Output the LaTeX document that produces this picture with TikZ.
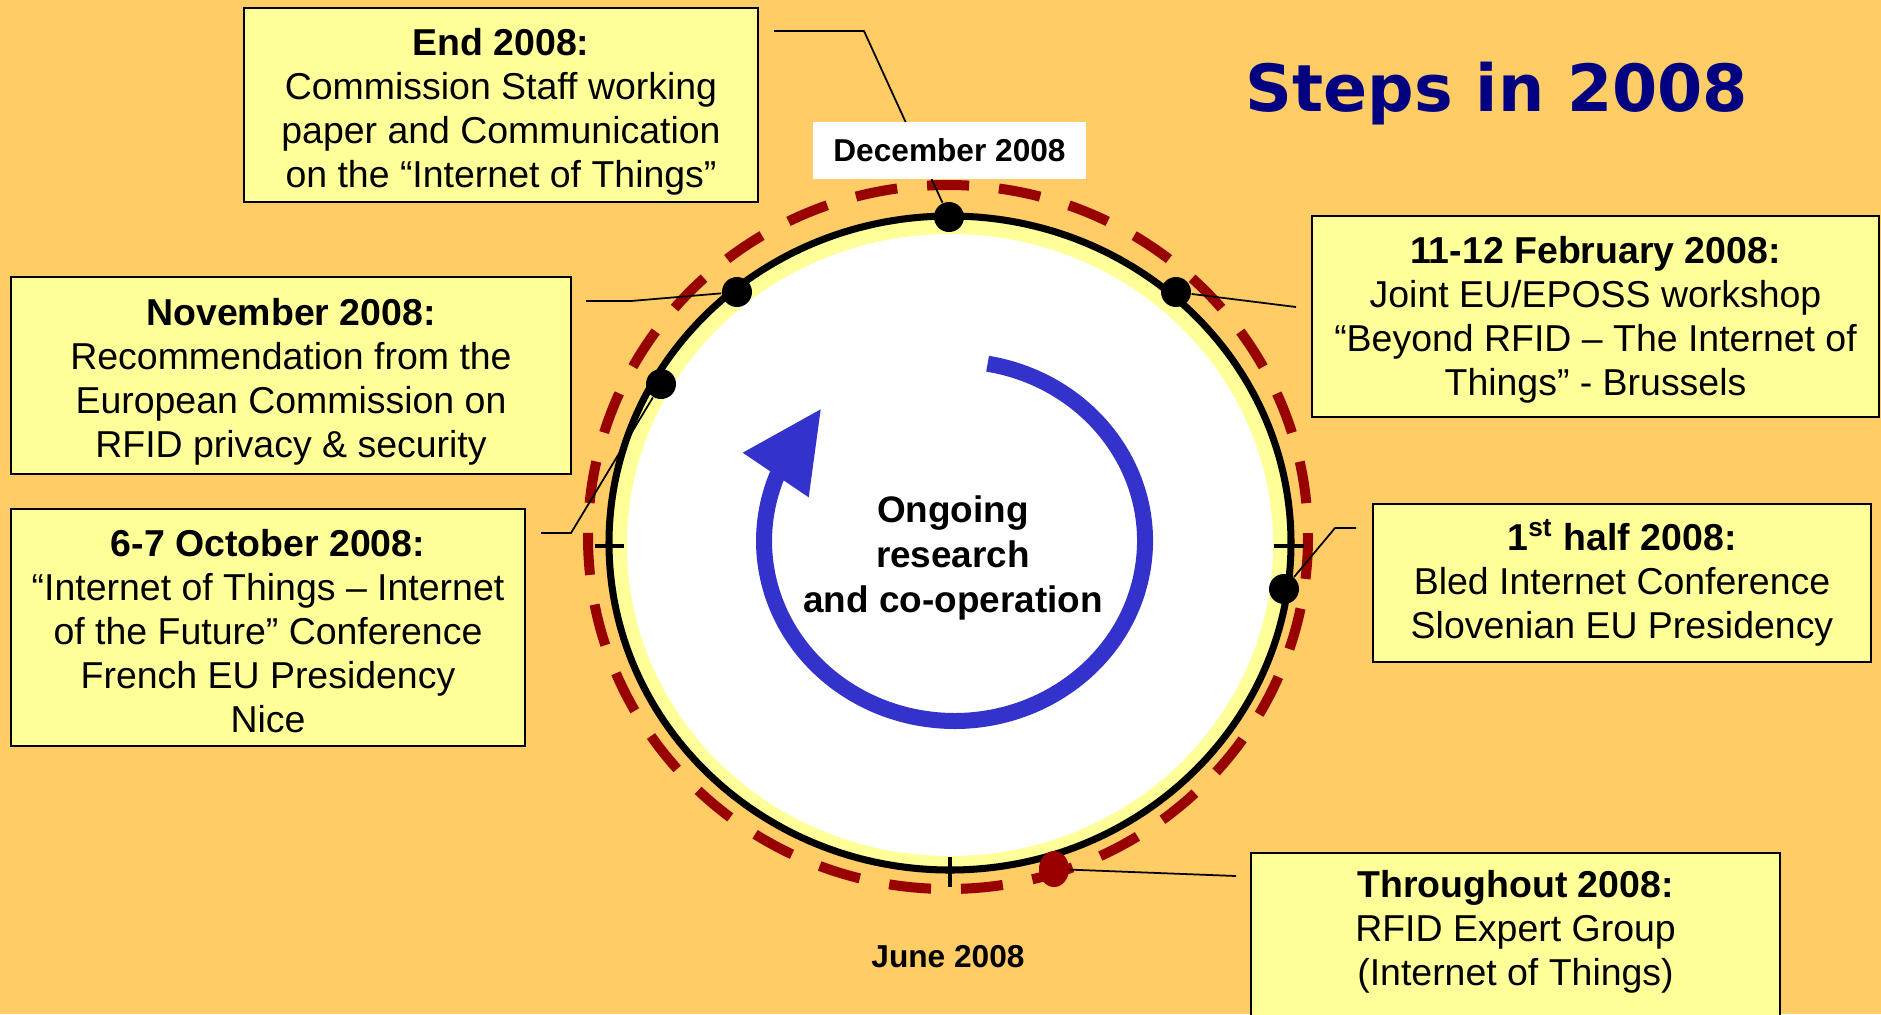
\documentclass[tikz,border=0pt]{standalone}
\usepackage{fontspec}
\setmainfont{Liberation Sans}
\newfontfamily\titlefont{DejaVu Sans}
\usetikzlibrary{shapes.geometric}

\definecolor{bgorange}{HTML}{FFCC66}
\definecolor{boxyellow}{HTML}{FFFF99}
\definecolor{ringred}{HTML}{990000}
\definecolor{arcblue}{HTML}{3333CC}
\definecolor{titleblue}{HTML}{000080}

\begin{document}
\begin{tikzpicture}[x=0.01cm, y=-0.01cm,
    eventbox/.style={draw=black, line width=0.6pt, fill=boxyellow, align=center,
        inner sep=0pt, font=\fontsize{10.65}{12.5}\selectfont},
    stepdot/.style={circle, fill=black, inner sep=0pt, minimum size=0.3cm},
    leader/.style={line width=0.5pt},
    ringtick/.style={line width=1.2pt}]

    % Background and picture size
    \fill[bgorange] (0,0) rectangle (1881,1014);
    \useasboundingbox (0,0) rectangle (1881,1014);

    % Dashed outer ring
    \draw[ringred, line width=0.1cm, dash pattern=on 0.42cm off 0.3cm]
        (948,537) ellipse[x radius=360, y radius=352];

    % Year disc: yellow band, white inside, black rim
    \fill[boxyellow] (950,543) ellipse[x radius=341, y radius=327];
    \fill[white] (950,545) ellipse[x radius=323, y radius=311];
    \draw[line width=2pt] (950,543) ellipse[x radius=341, y radius=327];

    % Quarter ticks on the rim
    \draw[ringtick] (595,546) -- (624,546);
    \draw[ringtick] (1274,546) -- (1304,546);
    \draw[ringtick] (950,857) -- (950,887);

    % Blue cycle arrow
    \draw[arcblue, line width=0.16cm] (987.6,363.7)
        arc[start angle=-80, end angle=201.7, x radius=190.5, y radius=180];
    \fill[arcblue] (820.7,409.3) -- (742.7,452.7) -- (808.7,497.3) -- cycle;

    % Centre text
    \node[align=center, font=\bfseries\fontsize{10.5}{12.8}\selectfont] (ongoing) at (953,558)
        {Ongoing\\research\\and co-operation};

    % Title
    \node[anchor=base, text=titleblue, font=\titlefont\bfseries\fontsize{18.5}{22}\selectfont]
        (title) at (1497,111) {Steps in 2008};

    % Event dots on the rim
    \node[stepdot] (decdot) at (949,217) {};
    \node[stepdot] (febdot) at (1176,292) {};
    \node[stepdot] (halfdot) at (1284,589) {};
    \node[stepdot] (novdot) at (737,292) {};
    \node[stepdot] (octdot) at (661,384) {};
    \node[ellipse, fill=ringred, inner sep=0pt, minimum width=0.3cm, minimum height=0.36cm]
        (thrdot) at (1054,869) {};

    % Free ends of the leaders
    \coordinate (endA) at (774,31);
    \coordinate (endB) at (864,31);
    \coordinate (febA) at (1296,307);
    \coordinate (halfA) at (1335,528);
    \coordinate (halfB) at (1356,528);
    \coordinate (thrA) at (1236,876);
    \coordinate (novA) at (586,301);
    \coordinate (novB) at (631,301);
    \coordinate (octA) at (541,533);
    \coordinate (octB) at (571,533);

    % Leaders from the boxes to the dots
    \draw[leader] (endA) -- (endB) -- (decdot);
    \draw[leader] (febdot) -- (febA);
    \draw[leader] (halfdot) -- (halfA) -- (halfB);
    \draw[leader] (thrdot) -- (thrA);
    \draw[leader] (novA) -- (novB) -- (novdot);
    \draw[leader] (octA) -- (octB) -- (octdot);

    % Month labels on the ring
    \node[fill=white, minimum width=2.73cm, minimum height=0.57cm, inner sep=0pt,
        font=\bfseries\fontsize{9}{11}\selectfont] (decbox) at (949.5,150.5) {December 2008};
    \node[anchor=base, font=\bfseries\fontsize{9}{11}\selectfont] (junelabel) at (948,967) {June 2008};

    % Event boxes
    \node[eventbox, minimum width=5.14cm, minimum height=1.94cm, text height=49.3pt] (endbox) at (501,105)
        {\textbf{End 2008:}\\Commission Staff working\\paper and Communication\\on the “Internet of Things”};
    \node[eventbox, minimum width=5.60cm, minimum height=1.97cm, text height=48.7pt] (novbox) at (291,375.5)
        {\textbf{November 2008:}\\Recommendation from the\\European Commission on\\RFID privacy \& security};
    \node[eventbox, minimum width=5.14cm, minimum height=2.37cm, text height=59.8pt] (octbox) at (268,627.5)
        {\textbf{6-7 October 2008:}\\“Internet of Things – Internet\\of the Future” Conference\\French EU Presidency\\Nice};
    \node[eventbox, minimum width=5.67cm, minimum height=2.01cm, text height=47.3pt] (febbox) at (1595.5,316.5)
        {\textbf{11-12 February 2008:}\\Joint EU/EPOSS workshop\\“Beyond RFID – The Internet of\\Things” - Brussels};
    \node[eventbox, minimum width=4.98cm, minimum height=1.58cm] (halfbox) at (1622,583)
        {\textbf{1\textsuperscript{st} half 2008:}\\Bled Internet Conference\\Slovenian EU Presidency};
    \node[eventbox, anchor=north, minimum width=5.29cm, minimum height=1.8cm, text depth=8.5pt]
        (thrbox) at (1515.5,852)
        {\textbf{Throughout 2008:}\\RFID Expert Group\\(Internet of Things)};

\end{tikzpicture}
\end{document}
